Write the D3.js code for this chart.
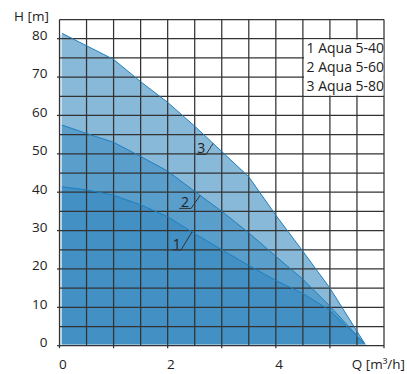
<!DOCTYPE html>
<html>
<head>
<meta charset="utf-8">
<script src="https://cdn.jsdelivr.net/npm/d3@7"></script>
<style>
  html, body { margin: 0; padding: 0; background: #fff; }
  svg { display: block; }
  text { font-family: "Open Sans", "Noto Sans", sans-serif; fill: #222; }
</style>
</head>
<body>
<svg id="chart" width="407" height="374"></svg>
<script>
// ---- data ----
const curve1Q = [0, 0.5, 1, 1.5, 2, 2.5, 3, 3.5, 4, 4.5, 5, 5.65];
const curve1H = [41.4, 40.6, 39.2, 36.7, 33.6, 29.2, 25.0, 20.9, 17.0, 13.6, 9.2, 0.4];
const curve2Q = [0, 0.5, 1, 1.5, 2, 2.5, 3, 3.5, 4, 4.5, 5, 5.65];
const curve2H = [57.5, 55.3, 53.0, 49.3, 45.5, 40.2, 35.0, 29.4, 23.3, 17.3, 10.3, 0.4];
const curve3Q = [0, 1, 1.5, 2, 2.5, 3, 3.5, 4, 4.5, 5, 5.65];
const curve3H = [81.4, 74.6, 68.8, 63.4, 57.2, 50.6, 44.0, 34.0, 24.6, 15.0, 0.4];
const seriesNames = ["1 Aqua 5-40", "2 Aqua 5-60", "3 Aqua 5-80"];
const seriesNumbers = ["1", "2", "3"];
const labelQ = [2.45, 2.6, 2.84];
const xTicks = [0, 2, 4];
const yTicks = [0, 10, 20, 30, 40, 50, 60, 70, 80];
const xAxisTitle = "Q [m³/h]";
const yAxisTitle = "H [m]";

// ---- setup ----
const svg = d3.select("#chart");
const x = d3.scaleLinear().domain([0, 6]).range([59.5, 384]);
const y = d3.scaleLinear().domain([0, 85]).range([345.7, 19.5]);

const series = [
  { q: curve3Q, h: curve3H, fill: "#88b9d8" },
  { q: curve2Q, h: curve2H, fill: "#5a9ecb" },
  { q: curve1Q, h: curve1H, fill: "#4390c4" }
];
const toPts = s => s.q.map((q, i) => [q, s.h[i]]);

const area = d3.area().x(d => x(d[0])).y0(y(0.4)).y1(d => y(d[1]));
const line = d3.line().x(d => x(d[0])).y(d => y(d[1]));

// light edge strip
svg.append("rect")
  .attr("x", x(0)).attr("y", y(curve3H[0]) + 2)
  .attr("width", 2.5).attr("height", y(0) - y(curve3H[0]) - 2)
  .attr("fill", "#d3e2ec");
svg.append("rect")
  .attr("x", x(0)).attr("y", y(0.4))
  .attr("width", x(5.6) - x(0)).attr("height", y(0) - y(0.4))
  .attr("fill", "#d3e2ec");

// fills
const fillData = series.map(s => {
  const pts = toPts(s).slice();
  pts[0] = [0.045, pts[0][1]];
  return pts;
});
svg.selectAll("path.area").data(series).join("path")
  .attr("class", "area")
  .attr("d", (s, i) => area(fillData[i]))
  .attr("fill", s => s.fill);

// grid
const grid = svg.append("g").attr("stroke", "#333").attr("stroke-width", 1.25);
grid.selectAll("line.v").data(d3.range(0, 6.01, 0.5)).join("line")
  .attr("x1", d => x(d)).attr("x2", d => x(d))
  .attr("y1", y(85)).attr("y2", y(0));
grid.selectAll("line.h").data(d3.range(0, 85.01, 5)).join("line")
  .attr("x1", x(0)).attr("x2", x(6))
  .attr("y1", d => y(d)).attr("y2", d => y(d));

// axis ticks
const ticks = svg.append("g").attr("stroke", "#333").attr("stroke-width", 1.25);
ticks.selectAll("line.yt").data(yTicks).join("line")
  .attr("x1", x(0) - 2.5).attr("x2", x(0))
  .attr("y1", d => y(d)).attr("y2", d => y(d));
ticks.selectAll("line.xt").data(d3.range(0, 6.01, 1)).join("line")
  .attr("x1", d => x(d)).attr("x2", d => x(d))
  .attr("y1", y(0)).attr("y2", y(0) + 2.5);

// curve lines
svg.selectAll("path.curve").data(series).join("path")
  .attr("class", "curve")
  .attr("d", (s, i) => line(fillData[i]))
  .attr("fill", "none")
  .attr("stroke", "#1c80c0")
  .attr("stroke-width", 1);

// legend box
svg.append("rect")
  .attr("x", 304).attr("y", y(80) + 0.8)
  .attr("width", x(6) - 304 - 0.6).attr("height", y(65) - y(80) - 1.6)
  .attr("fill", "#fff");
svg.selectAll("text.leg").data(seriesNames).join("text")
  .attr("class", "leg")
  .attr("x", 306.5)
  .attr("y", (d, i) => 53.3 + i * 18.8)
  .attr("font-size", 14)
  .text(d => d);

// tick labels
svg.selectAll("text.yl").data(yTicks).join("text")
  .attr("class", "yl")
  .attr("x", 47.5).attr("y", d => y(d) - 3.6)
  .attr("text-anchor", "end").attr("dominant-baseline", "central")
  .attr("font-size", 13.5)
  .text(d => d);
svg.selectAll("text.xl").data(xTicks).join("text")
  .attr("class", "xl")
  .attr("x", d => x(d) + 3.3).attr("y", 363.5)
  .attr("text-anchor", "middle").attr("dominant-baseline", "central")
  .attr("font-size", 13.5)
  .text(d => d);

// axis titles
svg.append("text").attr("x", 14).attr("y", 15.5)
  .attr("dominant-baseline", "central").attr("font-size", 13.5)
  .text(yAxisTitle);
svg.append("text").attr("x", 405).attr("y", 363.5)
  .attr("text-anchor", "end").attr("dominant-baseline", "central")
  .attr("font-size", 13.5)
  .text(xAxisTitle);

// curve labels with leaders
const curvesByNum = [series[2], series[1], series[0]];
const leaderOff = [[-11, 18], [-9, 13], [-7, 11]];
const underline = [8.5, 12, 9.5];
seriesNumbers.forEach((num, i) => {
  const s = curvesByNum[i];
  const hAt = d3.scaleLinear().domain(s.q).range(s.h);
  const ax = x(labelQ[i]), ay = y(hAt(labelQ[i]));
  const bx = ax + leaderOff[i][0], by = ay + leaderOff[i][1];
  const ux = bx - underline[i];
  svg.append("path")
    .attr("d", `M${ux},${by}L${bx},${by}L${ax},${ay}`)
    .attr("fill", "none").attr("stroke", "#333").attr("stroke-width", 1);
  svg.append("text")
    .attr("x", (ux + bx) / 2).attr("y", by - 1)
    .attr("text-anchor", "middle")
    .attr("font-size", 14)
    .text(num);
});
</script>
</body>
</html>
